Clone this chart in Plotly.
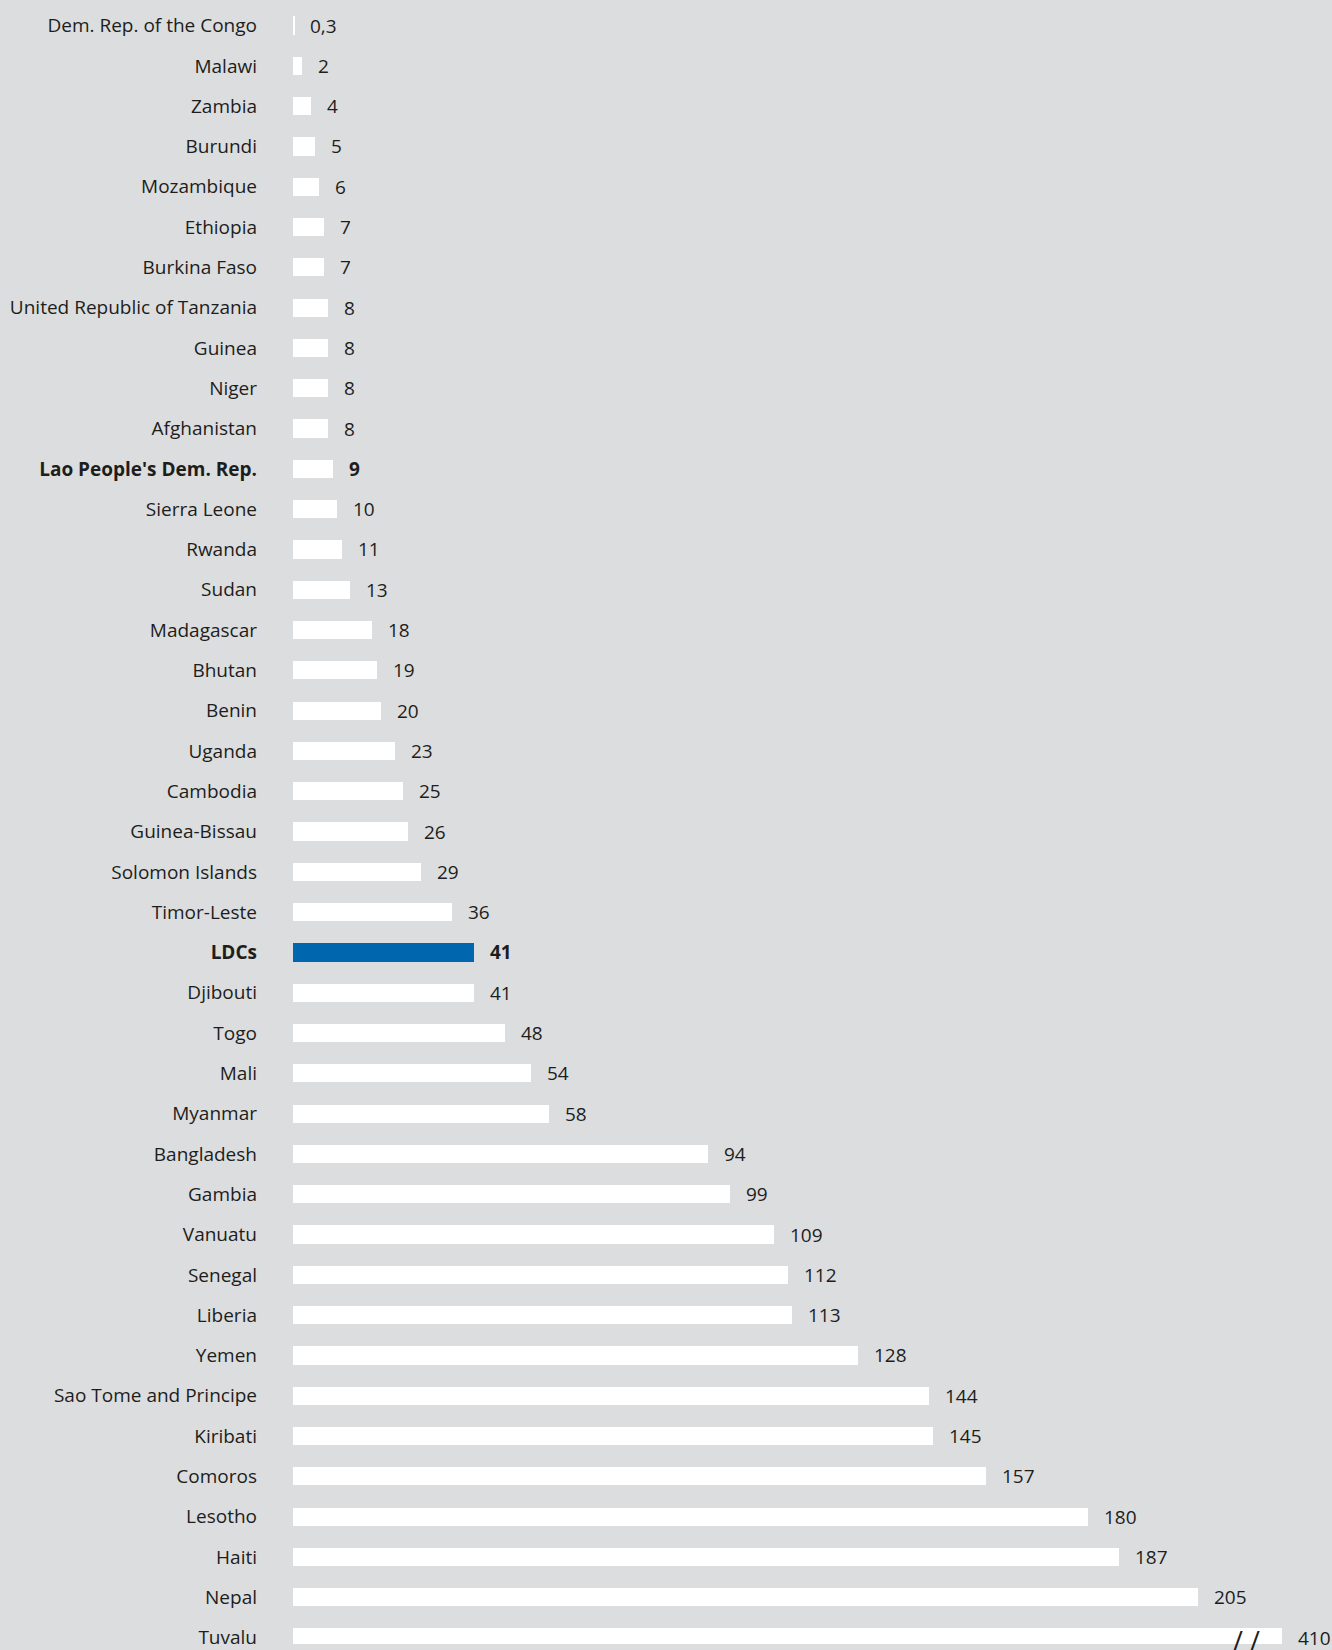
import plotly.graph_objects as go

# data
countries = [
    "Dem. Rep. of the Congo", "Malawi", "Zambia", "Burundi", "Mozambique",
    "Ethiopia", "Burkina Faso", "United Republic of Tanzania", "Guinea", "Niger",
    "Afghanistan", "Lao People's Dem. Rep.", "Sierra Leone", "Rwanda", "Sudan",
    "Madagascar", "Bhutan", "Benin", "Uganda", "Cambodia",
    "Guinea-Bissau", "Solomon Islands", "Timor-Leste", "LDCs", "Djibouti",
    "Togo", "Mali", "Myanmar", "Bangladesh", "Gambia",
    "Vanuatu", "Senegal", "Liberia", "Yemen", "Sao Tome and Principe",
    "Kiribati", "Comoros", "Lesotho", "Haiti", "Nepal", "Tuvalu",
]
values = [0.3, 2, 4, 5, 6, 7, 7, 8, 8, 8, 8, 9, 10, 11, 13, 18, 19, 20, 23, 25,
          26, 29, 36, 41, 41, 48, 54, 58, 94, 99, 109, 112, 113, 128, 144, 145,
          157, 180, 187, 205, 410]
value_labels = ["0,3" if v == 0.3 else str(v) for v in values]
bold_rows = ["Lao People's Dem. Rep.", "LDCs"]
highlight = "LDCs"

BREAK_AT = 224  # bars longer than this are drawn broken

BG = "#dcdddf"
WHITE = "#ffffff"
BLUE = "#0066ad"
INK = "#1d1d1b"
FONT = "Open Sans"

disp = [min(v, BREAK_AT) for v in values]
ypos = list(range(len(countries)))
colors = [BLUE if c == highlight else WHITE for c in countries]
ticktext = ["<b>%s</b>" % c if c in bold_rows else c for c in countries]

fig = go.Figure()
fig.add_trace(go.Bar(
    x=disp, y=ypos, orientation="h",
    marker=dict(color=colors, line=dict(width=0)),
    width=0.45, hoverinfo="skip",
))

for c, d, lab, y in zip(countries, disp, value_labels, ypos):
    txt = "<b>%s</b>" % lab if c in bold_rows else lab
    fig.add_annotation(x=d, y=y, text=txt, showarrow=False, xanchor="left",
                       xshift=14, font=dict(size=19, color=INK, family=FONT))

# break marks on the long bar
for v, y in zip(values, ypos):
    if v > BREAK_AT:
        fig.add_annotation(x=BREAK_AT - 8, y=y, text="/ /", showarrow=False,
                           yshift=-3, font=dict(size=27, color=INK, family=FONT))

fig.update_layout(
    width=1332, height=1650,
    margin=dict(l=293, r=0, t=0, b=0),
    paper_bgcolor=BG, plot_bgcolor=BG,
    showlegend=False, bargap=0,
    font=dict(family=FONT, size=19, color=INK),
)
fig.update_xaxes(range=[0, 235.3], visible=False, fixedrange=True)
fig.update_yaxes(
    range=[40.16, -0.634], tickmode="array", tickvals=ypos, ticktext=ticktext,
    showgrid=False, zeroline=False, showline=False, ticks="",
    ticklabelstandoff=35, ticklabeloverflow="allow",
    tickfont=dict(size=19, color=INK, family=FONT),
)

fig.write_html(
    "out.html",
    config={"displayModeBar": False},
    post_script="document.body.style.margin='0';document.body.style.overflow='hidden';",
)
